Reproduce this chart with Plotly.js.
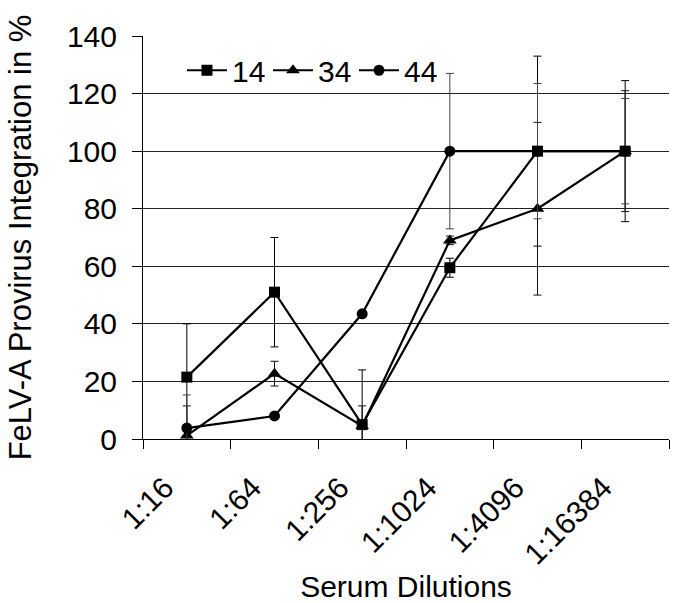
<!DOCTYPE html>
<html>
<head>
<meta charset="utf-8">
<script src="https://cdn.plot.ly/plotly-3.0.1.min.js"></script>
<style>html,body{margin:0;padding:0;background:#fff;}#chart{width:674px;height:603px;}</style>
</head>
<body>
<div id="chart"></div>
<script>
const dilutions = ["1:16", "1:64", "1:256", "1:1024", "1:4096", "1:16384"];
const seriesNames = ["14", "34", "44"];
const values14 = [21.5, 51, 5, 59.5, 100, 100];
const errors14 = [18.5, 19, 19, 3.3, 33, 24.5];
const values34 = [1.2, 22.7, 4.5, 69, 80, 100];
const errors34 = [10.3, 4.3, 7, 1.5, 30, 21];
const values44 = [3.8, 8, 43.5, 100, 100, 100];
const errors44 = [11.5, 0, 0, 27, 23.5, 18.3];
const yTicks = [0, 20, 40, 60, 80, 100, 120, 140];

const FONT = "Liberation Sans, Arial, sans-serif";
const symbols = ["square", "triangle-up", "circle"];
const vals = [values14, values34, values44];
const errs = [errors14, errors34, errors44];
const errColors = ["#000000", "#111111", "#444444"];
const msize = [11, 12, 11];
const legendIds = ["legend", "legend2", "legend3"];
const legendX = [0.0741, 0.2376, 0.4011];

const traces = seriesNames.map((name, i) => ({
  type: "scatter",
  mode: "lines+markers",
  name: name,
  legend: legendIds[i],
  x: dilutions,
  y: vals[i],
  line: {color: "#000", width: 2.2},
  marker: {symbol: symbols[i], size: msize[i], color: "#000"},
  error_y: {type: "data", array: errs[i], visible: true, color: errColors[i], thickness: 1, width: 4},
  cliponaxis: true
}));

function legendBox(x) {
  return {
    orientation: "h", x: x, y: 0.915, xanchor: "left", yanchor: "middle",
    bgcolor: "rgba(0,0,0,0)", font: {family: FONT, size: 30, color: "#000"},
    itemwidth: 40
  };
}

const layout = {
  width: 674, height: 603,
  margin: {l: 143, r: 5, t: 36, b: 164},
  paper_bgcolor: "#fff", plot_bgcolor: "#fff",
  font: {family: FONT, size: 30, color: "#000"},
  showlegend: true,
  legend: legendBox(legendX[0]),
  legend2: legendBox(legendX[1]),
  legend3: legendBox(legendX[2]),
  xaxis: {
    type: "category",
    tickangle: -45,
    ticks: "outside", ticklen: 9, tickwidth: 1, tickcolor: "#000",
    tickson: "boundaries",
    showline: true, linecolor: "#000", linewidth: 1,
    showgrid: false, zeroline: false,
    tickfont: {family: FONT, size: 30, color: "#000"},
    ticklabelstandoff: 18,
    ticklabelshift: -22,
    title: {text: "Serum Dilutions", font: {family: FONT, size: 30, color: "#000"}, standoff: 16},
    range: [-0.5, 5.5]
  },
  yaxis: {
    range: [0, 140],
    tickvals: yTicks,
    ticks: "outside", ticklen: 10, tickwidth: 1, tickcolor: "#000",
    showline: true, linecolor: "#000", linewidth: 1,
    showgrid: true, gridcolor: "#222", gridwidth: 1,
    zeroline: false,
    tickfont: {family: FONT, size: 30, color: "#000"},
    ticklabelstandoff: 9,
    title: {text: "FeLV-A Provirus Integration in %", font: {family: FONT, size: 31, color: "#000"}, standoff: 26}
  }
};

Plotly.newPlot("chart", traces, layout, {displayModeBar: false, staticPlot: true});
</script>
</body>
</html>
